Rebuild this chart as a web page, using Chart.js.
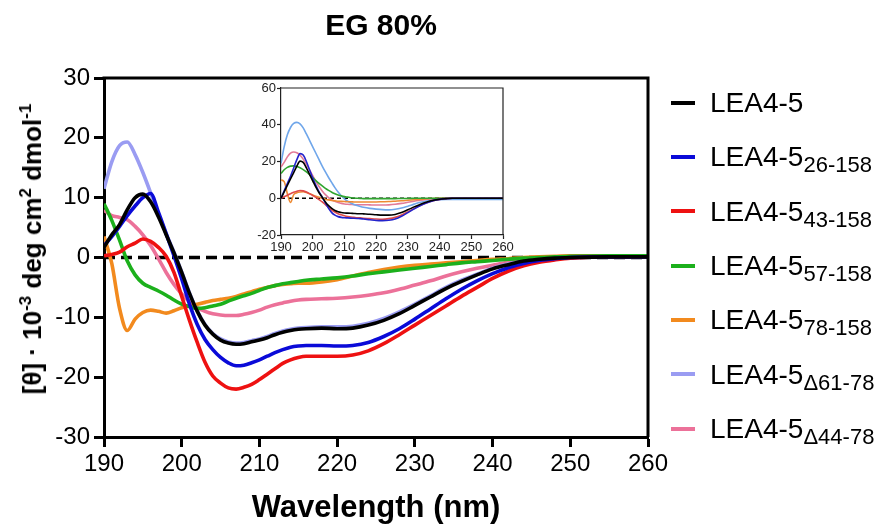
<!DOCTYPE html>
<html>
<head>
<meta charset="utf-8">
<script src="https://cdn.jsdelivr.net/npm/chart.js@4.4.1/dist/chart.umd.min.js"></script>
<style>
  html, body { margin:0; padding:0; background:#fff; }
  #wrap { position:relative; width:883px; height:527px; overflow:hidden; background:#fff;
          font-family:'Liberation Sans', Arial, Helvetica, sans-serif; color:#000; }
  canvas { position:absolute; }
  .t { position:absolute; white-space:nowrap; line-height:1; }
  #title { left:381px; top:10px; font-size:30px; font-weight:bold; transform:translateX(-50%); }
  #xtitle { left:376px; top:491px; font-size:31px; font-weight:bold; transform:translateX(-50%); }
  #ytitle { left:31px; top:249px; font-size:26px; font-weight:bold; transform:translate(-50%,-50%) rotate(-90deg); }
  #ytitle sup { font-size:17px; vertical-align:10px; line-height:1; }
  .lg-line { position:absolute; left:671px; width:24px; height:4px; }
  .lg-text { position:absolute; left:710px; font-size:28px; white-space:nowrap; line-height:1; }
  .lg-text sub { font-size:22px; vertical-align:-6px; line-height:1; }
</style>
</head>
<body>
<div id="wrap">
  <canvas id="main" width="883" height="527" style="left:0;top:0"></canvas>
  <canvas id="inset" width="280" height="180" style="left:240px;top:78px"></canvas>
  <div class="t" id="title">EG 80%</div>
  <div class="t" id="xtitle">Wavelength (nm)</div>
  <div class="t" id="ytitle">[θ] · 10<sup>-3</sup> deg cm<sup>2</sup> dmol<sup>-1</sup></div>
  <div id="legend"></div>
</div>
<script>
// ---------- DATA ----------
const wavelengths = [190,191,192,193,194,195,196,197,198,199,200,201,202,203,204,205,206,207,208,209,210,211,212,213,214,215,
  216,218,220,222,224,226,228,230,232,234,236,238,240,242,244,246,248,250,255,260];

const legendBase = "LEA4-5";
const legendSubs = ["", "26-158", "43-158", "57-158", "78-158", "Δ61-78", "Δ44-78"];

// main chart series (x 10^-3 deg cm2 dmol-1)
const lea45 = [1.7,3.8,5.5,8.0,10.0,10.6,9.3,6.8,3.8,0.8,-2.5,-6.0,-9.0,-11.3,-12.8,-13.8,-14.3,-14.5,-14.4,-14.1,-13.8,-13.4,-12.9,-12.5,-12.2,-12.0,
  -11.9,-11.8,-11.9,-11.8,-11.3,-10.5,-9.4,-8.0,-6.6,-5.2,-4.0,-2.9,-1.9,-1.2,-0.6,-0.3,-0.1,0.0,0.1,0.1];
const lea45_26 = [2.0,3.5,5.2,7.0,8.6,10.0,10.7,7.6,4.0,0.3,-3.6,-7.8,-11.2,-13.7,-15.4,-16.7,-17.6,-18.1,-18.0,-17.6,-17.1,-16.5,-15.9,-15.4,-15.0,-14.8,
  -14.7,-14.7,-14.8,-14.7,-14.2,-13.2,-11.9,-10.3,-8.6,-6.9,-5.3,-3.9,-2.7,-1.7,-1.0,-0.5,-0.2,0.0,0.1,0.1];
const lea45_43 = [0.3,0.5,0.9,1.8,2.4,3.1,2.7,1.7,0.2,-2.5,-6.5,-10.5,-14.2,-17.5,-19.8,-21.0,-21.8,-22.0,-21.7,-21.2,-20.4,-19.5,-18.6,-17.7,-17.1,-16.7,
  -16.5,-16.5,-16.5,-16.3,-15.6,-14.4,-12.9,-11.3,-9.7,-8.1,-6.5,-5.0,-3.5,-2.3,-1.4,-0.8,-0.4,-0.1,0.1,0.1];
const lea45_57 = [9.0,6.2,2.9,-0.6,-2.9,-4.3,-5.0,-5.6,-6.3,-7.1,-7.8,-8.2,-8.5,-8.4,-8.1,-7.8,-7.3,-6.8,-6.4,-6.0,-5.5,-5.0,-4.7,-4.4,-4.2,-4.0,
  -3.8,-3.6,-3.4,-3.1,-2.7,-2.4,-2.1,-1.8,-1.5,-1.2,-0.9,-0.7,-0.5,-0.3,-0.1,0.0,0.1,0.2,0.3,0.3];
const lea45_78 = [3.5,-1.0,-8.5,-12.2,-10.3,-9.2,-8.8,-9.0,-9.3,-8.9,-8.4,-8.1,-7.8,-7.5,-7.2,-7.0,-6.8,-6.5,-6.1,-5.7,-5.3,-5.0,-4.7,-4.5,-4.4,-4.3,
  -4.3,-4.1,-3.7,-3.1,-2.5,-2.0,-1.6,-1.3,-1.1,-0.9,-0.7,-0.5,-0.3,-0.2,0.0,0.1,0.2,0.3,0.3,0.3];
const lea45_d61 = [11.5,16.0,18.7,19.3,17.2,14.2,10.8,7.2,4.0,0.9,-2.4,-5.9,-8.9,-11.2,-12.7,-13.6,-14.1,-14.3,-14.2,-13.9,-13.6,-13.2,-12.7,-12.3,-12.0,-11.8,
  -11.7,-11.6,-11.6,-11.5,-11.0,-10.2,-9.1,-7.8,-6.4,-5.0,-3.8,-2.8,-1.8,-1.1,-0.6,-0.3,-0.1,0.0,0.1,0.1];
const lea45_d44 = [7.9,7.0,6.7,6.3,5.2,3.8,2.0,-0.2,-2.5,-4.5,-6.1,-7.4,-8.4,-9.0,-9.4,-9.6,-9.7,-9.7,-9.5,-9.2,-8.8,-8.3,-7.9,-7.6,-7.3,-7.1,
  -7.0,-6.9,-6.8,-6.6,-6.3,-5.9,-5.3,-4.6,-3.9,-3.1,-2.4,-1.8,-1.3,-0.8,-0.5,-0.3,-0.1,0.0,0.1,0.1];

// inset series
const inBlack = [0,3.5,7,10.5,14,17.5,20.2,19.5,16.5,13,9.5,6,3,0.5,-2,-4,-5.5,-6.7,-7.4,-7.8,-8.0,-8.1,-8.2,-8.3,-8.4,-8.4,
  -8.5,-8.7,-9.0,-9.2,-9.2,-8.8,-7.8,-6.3,-4.7,-3.2,-2.0,-1.1,-0.5,-0.2,0,0,0,0,0,0];
const inBlue = [0,4,8,12,16.5,21,24.3,23.5,20,15.5,11,7,3.5,0.5,-2.5,-5.5,-7.8,-9.2,-10.0,-10.4,-10.6,-10.7,-10.8,-10.9,-11.0,-11.1,
  -11.3,-11.7,-12.1,-12.2,-12.0,-11.3,-9.8,-7.8,-5.8,-3.9,-2.4,-1.3,-0.6,-0.2,0,0,0,0,0,0];
const inRed = [0,0.8,1.6,2.5,3.2,3.8,4.2,4.0,3.4,2.5,1.5,0.5,-0.7,-2.0,-3.5,-5.0,-6.4,-7.5,-8.4,-9.0,-9.5,-9.9,-10.2,-10.4,-10.6,-10.7,
  -10.9,-11.1,-11.3,-11.4,-11.1,-10.4,-9.1,-7.4,-5.6,-3.8,-2.4,-1.3,-0.6,-0.2,0,0,0,0,0,0];
const inGreen = [13.5,15.5,16.8,17.5,17.6,17.3,16.6,15.6,14.3,12.8,11.2,9.6,8.1,6.7,5.4,4.3,3.3,2.5,1.8,1.3,0.9,0.6,0.3,0.1,0,-0.1,
  -0.2,-0.2,-0.2,-0.2,-0.2,-0.2,-0.1,-0.1,0,0,0,0,0,0,0,0,0,0,0,0];
const inOrange = [10,9,2.5,-2.3,2.0,3.0,3.4,3.5,3.1,2.5,1.8,1.1,0.5,0,-0.5,-0.9,-1.2,-1.4,-1.6,-1.7,-1.8,-1.9,-1.9,-2.0,-2.0,-2.0,
  -2.0,-2.0,-2.0,-1.9,-1.8,-1.6,-1.4,-1.1,-0.8,-0.5,-0.3,-0.1,0,0,0,0,0,0,0,0];
const inLightBlue = [19,28,34.5,38.5,40.7,41.3,40.5,38.3,35,31.5,28,24.5,21,17.5,14.3,11.3,8.5,5.8,3.4,1.4,-0.3,-1.6,-2.6,-3.4,-4.0,-4.5,
  -4.9,-5.5,-5.9,-6.2,-6.3,-6.0,-5.3,-4.3,-3.2,-2.2,-1.5,-1.0,-0.8,-0.7,-0.7,-0.7,-0.7,-0.7,-0.7,-0.7];
const inPink = [17,19.5,22.5,24.5,25.2,24.8,23.5,21.3,18.5,15.5,12.3,9.2,6.4,4.0,2.0,0.4,-0.8,-1.7,-2.3,-2.8,-3.1,-3.3,-3.4,-3.5,-3.5,-3.5,
  -3.5,-3.6,-3.7,-3.7,-3.6,-3.3,-2.8,-2.2,-1.6,-1.0,-0.6,-0.3,-0.1,0,0,0,0,0,0,0];

const mainYTicks = [-30,-20,-10,0,10,20,30];
const mainXTicks = [190,200,210,220,230,240,250,260];
const insetYTicks = [-20,0,20,40,60];
const insetXTicks = [190,200,210,220,230,240,250,260];

// ---------- STYLE ----------
const FONT = "'Liberation Sans', Arial, Helvetica, sans-serif";
const mainColors = ['#000000','#0a0ad8','#ee1111','#1cb01c','#f28a1e','#9a9cf2','#ec7199'];
const mainSeries = [lea45, lea45_26, lea45_43, lea45_57, lea45_78, lea45_d61, lea45_d44];
const insetColors = ['#000000','#2323cc','#e04a4a','#2fa52f','#ee8a33','#6fa6ea','#e27b98'];
const insetSeries = [inBlack, inBlue, inRed, inGreen, inOrange, inLightBlue, inPink];

const pts = arr => wavelengths.map((x, i) => ({x: x, y: arr[i]}));
const zeroLine = [{x: wavelengths[0], y: 0}, {x: wavelengths[wavelengths.length - 1], y: 0}];

const framePlugin = {
  id: 'frame',
  afterDatasetsDraw(chart, args, opts) {
    const a = chart.chartArea, ctx = chart.ctx;
    ctx.save();
    ctx.strokeStyle = opts.color || '#000';
    ctx.lineWidth = opts.width || 1;
    ctx.beginPath();
    ctx.moveTo(a.left - (opts.width||1)/2, a.top);
    ctx.lineTo(a.right, a.top);
    ctx.lineTo(a.right, a.bottom);
    ctx.stroke();
    ctx.restore();
  }
};

function axis(min, max, ticksArr, fontSize, color, tickLen, lw, pad, fitKey, fitVal) {
  return {
    type: 'linear', min: min, max: max,
    afterBuildTicks: s => { s.ticks = ticksArr.map(v => ({value: v})); },
    afterFit: s => { s[fitKey] = fitVal; },
    ticks: { font: {family: FONT, size: fontSize}, color: color, padding: pad, maxRotation: 0, autoSkip: false },
    grid: { drawOnChartArea: false, drawTicks: true, tickLength: tickLen, tickWidth: lw, tickColor: color },
    border: { display: true, width: lw, color: color }
  };
}

// ---------- MAIN CHART ----------
const mainDatasets = mainSeries.map((s, i) => ({
  label: legendBase + legendSubs[i],
  data: pts(s),
  borderColor: mainColors[i],
  borderWidth: 3.6,
  pointRadius: 0,
  cubicInterpolationMode: 'monotone',
  fill: false,
  order: 0
}));
mainDatasets.push({
  label: 'zero', data: zeroLine, borderColor: '#000', borderWidth: 3.5,
  borderDash: [11, 6], pointRadius: 0, fill: false, order: 10
});

new Chart(document.getElementById('main'), {
  type: 'line',
  data: { datasets: mainDatasets },
  options: {
    responsive: false, animation: false, devicePixelRatio: 1,
    layout: { padding: { left: 0, right: 235, top: 78, bottom: 50 } },
    plugins: { legend: { display: false }, tooltip: { enabled: false }, title: { display: false },
               frame: { color: '#000', width: 3 } },
    scales: {
      x: axis(190, 260, mainXTicks, 24, '#000', 10, 3, 3, 'height', 40),
      y: axis(-30, 30, mainYTicks, 24, '#000', 10, 3, 4, 'width', 104)
    }
  },
  plugins: [framePlugin]
});

// ---------- INSET ----------
const insetDatasets = insetSeries.map((s, i) => ({
  label: 'inset ' + i,
  data: pts(s),
  borderColor: insetColors[i],
  borderWidth: 1.6,
  pointRadius: 0,
  cubicInterpolationMode: 'monotone',
  fill: false,
  order: 0
}));
insetDatasets.push({
  label: 'zero', data: zeroLine, borderColor: '#000', borderWidth: 1.6,
  borderDash: [4, 3], pointRadius: 0, fill: false, order: 10
});

new Chart(document.getElementById('inset'), {
  type: 'line',
  data: { datasets: insetDatasets },
  options: {
    responsive: false, animation: false, devicePixelRatio: 1,
    layout: { padding: { left: 0, right: 17, top: 10, bottom: 7 } },
    plugins: { legend: { display: false }, tooltip: { enabled: false }, title: { display: false },
               frame: { color: '#222', width: 1.2 } },
    scales: {
      x: axis(190, 260, insetXTicks, 13, '#222', 4, 1.2, 1, 'height', 16),
      y: axis(-20, 60, insetYTicks, 13, '#222', 4, 1.2, 1, 'width', 41)
    }
  },
  plugins: [framePlugin]
});

// ---------- LEGEND (HTML text with subscripts) ----------
const legendEl = document.getElementById('legend');
legendSubs.forEach((sub, i) => {
  const y = 102.7 + i * 54.3;
  const ln = document.createElement('div');
  ln.className = 'lg-line';
  ln.style.top = (y - 2) + 'px';
  ln.style.background = mainColors[i];
  legendEl.appendChild(ln);
  const tx = document.createElement('div');
  tx.className = 'lg-text';
  tx.style.top = (y - 13.7) + 'px';
  tx.appendChild(document.createTextNode(legendBase));
  if (sub) {
    const s = document.createElement('sub');
    s.textContent = sub;
    tx.appendChild(s);
  }
  legendEl.appendChild(tx);
});
</script>
</body>
</html>
